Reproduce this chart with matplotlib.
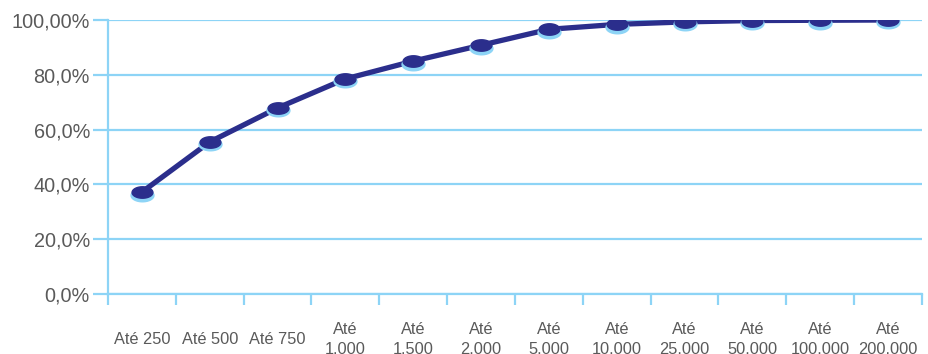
import numpy as np
import matplotlib.pyplot as plt
from matplotlib.path import Path

plt.rcParams['font.family'] = ['Liberation Sans', 'DejaVu Sans']

categorias = ['Até 250', 'Até 500', 'Até 750', 'Até\n1.000', 'Até\n1.500', 'Até\n2.000',
              'Até\n5.000', 'Até\n10.000', 'Até\n25.000', 'Até\n50.000', 'Até\n100.000',
              'Até\n200.000']
acumulado = [37.2, 55.5, 67.9, 78.5, 85.0, 90.8, 96.6, 98.4, 99.3, 99.8, 99.9, 100.0]
yticks = [0, 20, 40, 60, 80, 100]
ylabels = ['0,0%', '20,0%', '40,0%', '60,0%', '80,0%', '100,00%']

azul_claro = '#8dd4f6'
azul_escuro = '#2b2e8c'
cinza = '#5a5a5a'

# flattened ellipse used as marker (disc seen in perspective)
t = np.linspace(0, 2 * np.pi, 40)
disco = Path(np.column_stack([np.cos(t), 0.55 * np.sin(t)]), closed=True)

fig = plt.figure(figsize=(9.29, 3.54), dpi=100)
ax = fig.add_axes([108 / 929, 1 - 294 / 354, (922 - 108) / 929, (294 - 20) / 354])

x = np.arange(len(categorias)) + 0.5
ax.plot(x, acumulado, color=azul_escuro, lw=3.8, solid_capstyle='round', zorder=3)
# light rim under each disc
ax.plot(x, np.array(acumulado) - 0.9, ls='none', marker=disco, ms=16.5,
        mfc=azul_claro, mec=azul_claro, zorder=4)
ax.plot(x, acumulado, ls='none', marker=disco, ms=15,
        mfc=azul_escuro, mec=azul_escuro, zorder=5)

ax.set_xlim(0, len(categorias))
ax.set_ylim(0, 100)
ax.set_yticks(yticks)
ax.set_yticklabels(ylabels)
ax.set_xticks(np.arange(len(categorias) + 1))
ax.set_xticklabels([])
ax.set_xticks(x, minor=True)
ax.set_xticklabels(categorias, minor=True, va='center', linespacing=1.4)

ax.grid(axis='y', color=azul_claro, lw=1.6, zorder=1)
for lado in ['top', 'right']:
    ax.spines[lado].set_visible(False)
for lado in ['left', 'bottom']:
    ax.spines[lado].set_color(azul_claro)
    ax.spines[lado].set_linewidth(1.6)

ax.tick_params(axis='y', which='major', length=11, width=1.6, color=azul_claro,
               labelsize=14.3, labelcolor=cinza, pad=2)
ax.tick_params(axis='x', which='major', length=8, width=1.6, color=azul_claro,
               direction='out')
ax.tick_params(axis='x', which='minor', length=0, labelsize=11.8, labelcolor=cinza,
               pad=32.5)

fig.savefig('out.png', dpi=100)
